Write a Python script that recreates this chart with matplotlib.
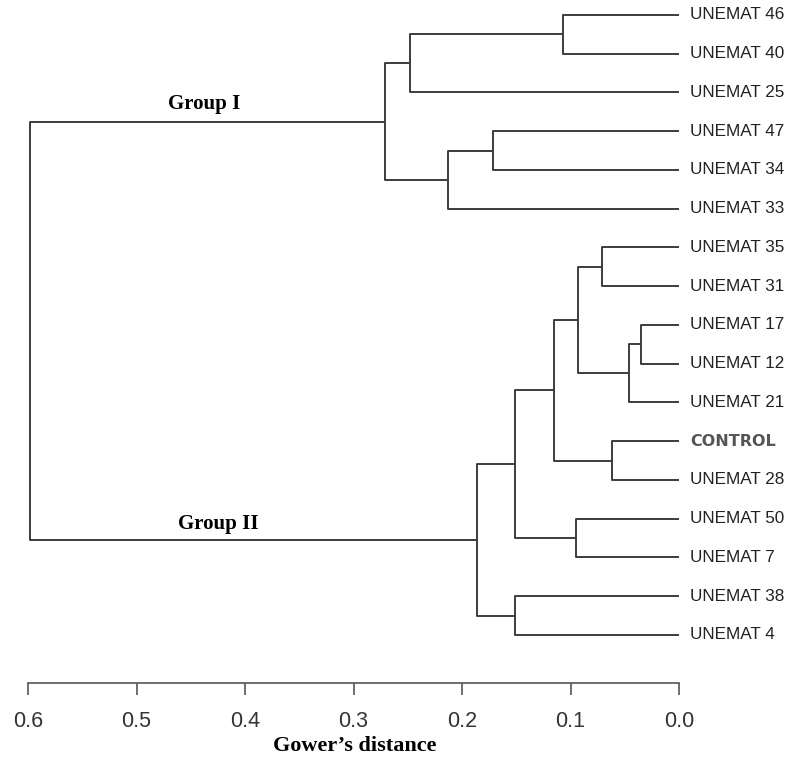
import matplotlib
matplotlib.use('Agg')
import matplotlib.pyplot as plt

# leaf order, top to bottom
leaves = ['UNEMAT 46', 'UNEMAT 40', 'UNEMAT 25', 'UNEMAT 47', 'UNEMAT 34',
          'UNEMAT 33', 'UNEMAT 35', 'UNEMAT 31', 'UNEMAT 17', 'UNEMAT 12',
          'UNEMAT 21', 'CONTROL', 'UNEMAT 28', 'UNEMAT 50', 'UNEMAT 7',
          'UNEMAT 38', 'UNEMAT 4']

# merges: (left node, right node, Gower's distance); new node ids start at len(leaves)
merge_left = [0, 17, 3, 19, 18, 6, 8, 23, 22, 11, 25, 13, 27, 15, 29, 21]
merge_right = [1, 2, 4, 5, 20, 7, 9, 10, 24, 12, 26, 14, 28, 16, 30, 31]
merge_height = [0.107, 0.248, 0.171, 0.213, 0.271, 0.071, 0.035, 0.046,
                0.093, 0.062, 0.115, 0.095, 0.151, 0.151, 0.186, 0.598]

ticks = [0.6, 0.5, 0.4, 0.3, 0.2, 0.1, 0.0]
tick_labels = ['0.6', '0.5', '0.4', '0.3', '0.2', '0.1', '0.0']

line_color = '#3c3c3c'

fig = plt.figure(figsize=(7.87, 7.68), dpi=100)
ax = fig.add_axes([28/787, 1 - 683/768, (679 - 28)/787, 683/768])
ax.set_xlim(0.6, 0.0)
ax.set_ylim(17.24, -0.387)

# draw the dendrogram
pos = {i: (0.0, float(i)) for i in range(len(leaves))}
n = len(leaves)
for k, (a, b, h) in enumerate(zip(merge_left, merge_right, merge_height)):
    xa, ya = pos[a]
    xb, yb = pos[b]
    ax.plot([xa, h, h, xb], [ya, ya, yb, yb], color=line_color, lw=1.4,
            solid_capstyle='butt', clip_on=False)
    pos[n + k] = (h, (ya + yb) / 2)

# leaf labels
for i, name in enumerate(leaves):
    if name == 'CONTROL':
        ax.annotate(name, xy=(0.0, i), xytext=(8, 0), textcoords='offset points',
                    va='center', ha='left', fontsize=11.5, fontweight='bold',
                    family='DejaVu Sans', color='#555555', annotation_clip=False)
    else:
        ax.annotate(name, xy=(0.0, i), xytext=(8, 0), textcoords='offset points',
                    va='center', ha='left', fontsize=12.3, family='Liberation Sans',
                    color='#222222', annotation_clip=False)

# axis styling
for s in ['left', 'top', 'right']:
    ax.spines[s].set_visible(False)
ax.spines['bottom'].set_bounds(0.0, 0.6)
ax.spines['bottom'].set_color('#555555')
ax.spines['bottom'].set_linewidth(1.2)
ax.set_yticks([])
ax.set_xticks(ticks)
ax.set_xticklabels(tick_labels, family='Liberation Sans', fontsize=15.5, color='#333333')
ax.tick_params(axis='x', length=8.6, width=1.2, color='#555555', pad=11.5)

fig.text(355/787, 1 - 746/768, 'Gower\u2019s distance', family='Liberation Serif',
         fontweight='bold', fontsize=16, ha='center', va='center')
fig.text(204/787, 1 - 104/768, 'Group I', family='Liberation Serif',
         fontweight='bold', fontsize=15, ha='center', va='center')
fig.text(218/787, 1 - 524/768, 'Group II', family='Liberation Serif',
         fontweight='bold', fontsize=15, ha='center', va='center')

fig.savefig('out.png', dpi=100)
